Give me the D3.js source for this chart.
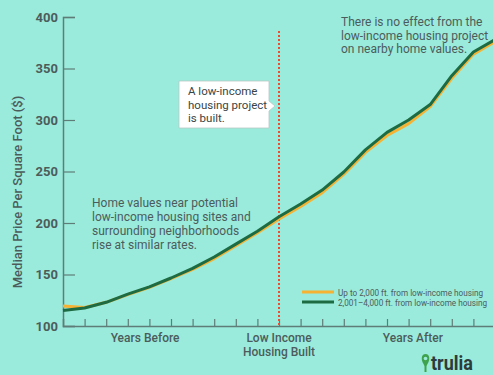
<!DOCTYPE html>
<html>
<head>
<meta charset="utf-8">
<script src="https://cdn.jsdelivr.net/npm/d3@7"></script>
<style>
  body { margin: 0; background: #9aebdb; }
  svg { display: block; font-family: Roboto, "Open Sans", sans-serif; }
</style>
</head>
<body>
<div id="chart"></div>
<script>
// chart data
var steps = d3.range(0, 21);          // 10 years before, build year, 10 after
var builtIndex = 10;
var nearValues = [119.5, 118, 123, 130.5, 137.5, 146, 155, 165.5, 178, 190.5, 204,
                  216, 229.5, 247.5, 268.5, 285, 296.5, 313, 340.5, 364, 376];
var farValues = [115, 117.5, 123, 131, 138, 146.6, 156, 167, 179.5, 192, 206,
                 218.5, 232, 249.5, 271, 288, 300, 315, 343, 366, 378];
var yTicks = [100, 150, 200, 250, 300, 350, 400];
var seriesNames = ["Up to 2,000 ft. from low-income housing", "2,001\u20134,000 ft. from low-income housing"];

var width = 493, height = 375;
var ink = "#4c5c5b", axisColor = "#5f7d78";
var orange = "#f5b233", green = "#1d6b42", red = "#ee4b32";

var svg = d3.select("#chart").append("svg")
    .attr("width", width)
    .attr("height", height);

svg.append("rect").attr("width", width).attr("height", height).attr("fill", "#9aebdb");

var x = d3.scaleLinear().domain([0, 20]).range([63, 495]);
var y = d3.scaleLinear().domain([100, 400]).range([326, 17]);

///axes
var yAxis = svg.append("g")
    .attr("transform", "translate(63,0)")
    .call(d3.axisLeft(y).tickValues(yTicks).tickSize(-12).tickPadding(5));
yAxis.select(".domain").attr("stroke", axisColor).attr("stroke-width", 1.5);
yAxis.selectAll(".tick line").attr("stroke", axisColor).attr("stroke-width", 1.2);
yAxis.selectAll(".tick text")
    .attr("fill", ink).style("font-size", "13px").style("font-weight", "bold")
    .style("font-family", "Roboto, sans-serif");

var xAxis = svg.append("g")
    .attr("transform", "translate(0,326)")
    .call(d3.axisBottom(x).tickValues(steps.slice(1)).tickSize(-7).tickFormat(""));
xAxis.select(".domain").attr("stroke", axisColor).attr("stroke-width", 1.5);
xAxis.selectAll(".tick line").attr("stroke", axisColor).attr("stroke-width", 1.2);

svg.append("text")
    .attr("transform", "translate(22,192) rotate(-90)")
    .attr("text-anchor", "middle")
    .attr("fill", ink)
    .style("font-size", "13px").style("font-weight", "500")
    .text("Median Price Per Square Foot ($)");

var xLabels = [
  { at: 3.8, lines: ["Years Before"] },
  { at: builtIndex, lines: ["Low Income", "Housing Built"] },
  { at: 16.2, lines: ["Years After"] }
];
xLabels.forEach(function (l) {
  var t = svg.append("text")
      .attr("text-anchor", "middle").attr("fill", ink)
      .style("font-size", "12px").style("font-weight", "500");
  l.lines.forEach(function (s, i) {
    t.append("tspan").attr("x", x(l.at)).attr("y", 342 + i * 14).text(s);
  });
});

///built marker
svg.append("line")
    .attr("x1", x(builtIndex)).attr("x2", x(builtIndex))
    .attr("y1", 31).attr("y2", 325)
    .attr("stroke", red).attr("stroke-width", 2)
    .attr("stroke-dasharray", "2,2");

///lines
var line = d3.line()
    .x(function (d, i) { return x(steps[i]); })
    .y(function (d) { return y(d); });

svg.append("path").datum(nearValues)
    .attr("d", line).attr("fill", "none")
    .attr("stroke", orange).attr("stroke-width", 3).attr("stroke-linejoin", "round");
svg.append("path").datum(farValues)
    .attr("d", line).attr("fill", "none")
    .attr("stroke", green).attr("stroke-width", 3).attr("stroke-linejoin", "round");

///annotations
function multiText(lines, px, py, lh, size, color) {
  var t = svg.append("text").attr("fill", color).style("font-size", size + "px");
  lines.forEach(function (s, i) {
    t.append("tspan").attr("x", px).attr("y", py + i * lh).text(s);
  });
  return t;
}

multiText(["Home values near potential", "low-income housing sites and",
           "surrounding neighborhoods", "rise at similar rates."], 92, 207, 14, 12, ink);
multiText(["There is no effect from the", "low-income housing project",
           "on nearby home values."], 341, 26, 13.7, 12, ink);

// callout box
var box = svg.append("g");
box.append("path")
    .attr("d", "M179,81 H269 V101 L275,106 L269,111 V128 H179 Z")
    .attr("fill", "#fff").attr("stroke", "#b8c8c4").attr("stroke-width", 0.8);
multiText(["A low-income", "housing project", "is built."], 188, 95, 13.5, 11.5, "#3a4444");

///legend
var legend = svg.append("g");
[orange, green].forEach(function (c, i) {
  legend.append("line")
      .attr("x1", 302).attr("x2", 334)
      .attr("y1", 292 + i * 10).attr("y2", 292 + i * 10)
      .attr("stroke", c).attr("stroke-width", 3);
  legend.append("text")
      .attr("transform", "translate(338," + (295.5 + i * 10) + ") scale(0.86,1)")
      .attr("fill", ink).style("font-size", "9.5px")
      .text(seriesNames[i]);
});

///logo
var logo = svg.append("g").attr("transform", "translate(421,354)");
logo.append("path")
    .attr("d", "M4.5,13 C-1,6.5 0,0 4.5,0 C9,0 10,6.5 4.5,13 Z")
    .attr("fill", "#3fa34d");
logo.append("circle").attr("cx", 4.5).attr("cy", 4.5).attr("r", 1.8).attr("fill", "#9aebdb");
logo.append("rect").attr("x", 3.5).attr("y", 11).attr("width", 2).attr("height", 7).attr("fill", "#3fa34d");
logo.append("text")
    .attr("transform", "translate(10,16) scale(0.9,1)")
    .attr("fill", "#2e3b3b")
    .style("font-size", "20px").style("font-weight", "bold")
    .text("trulia");
</script>
</body>
</html>
